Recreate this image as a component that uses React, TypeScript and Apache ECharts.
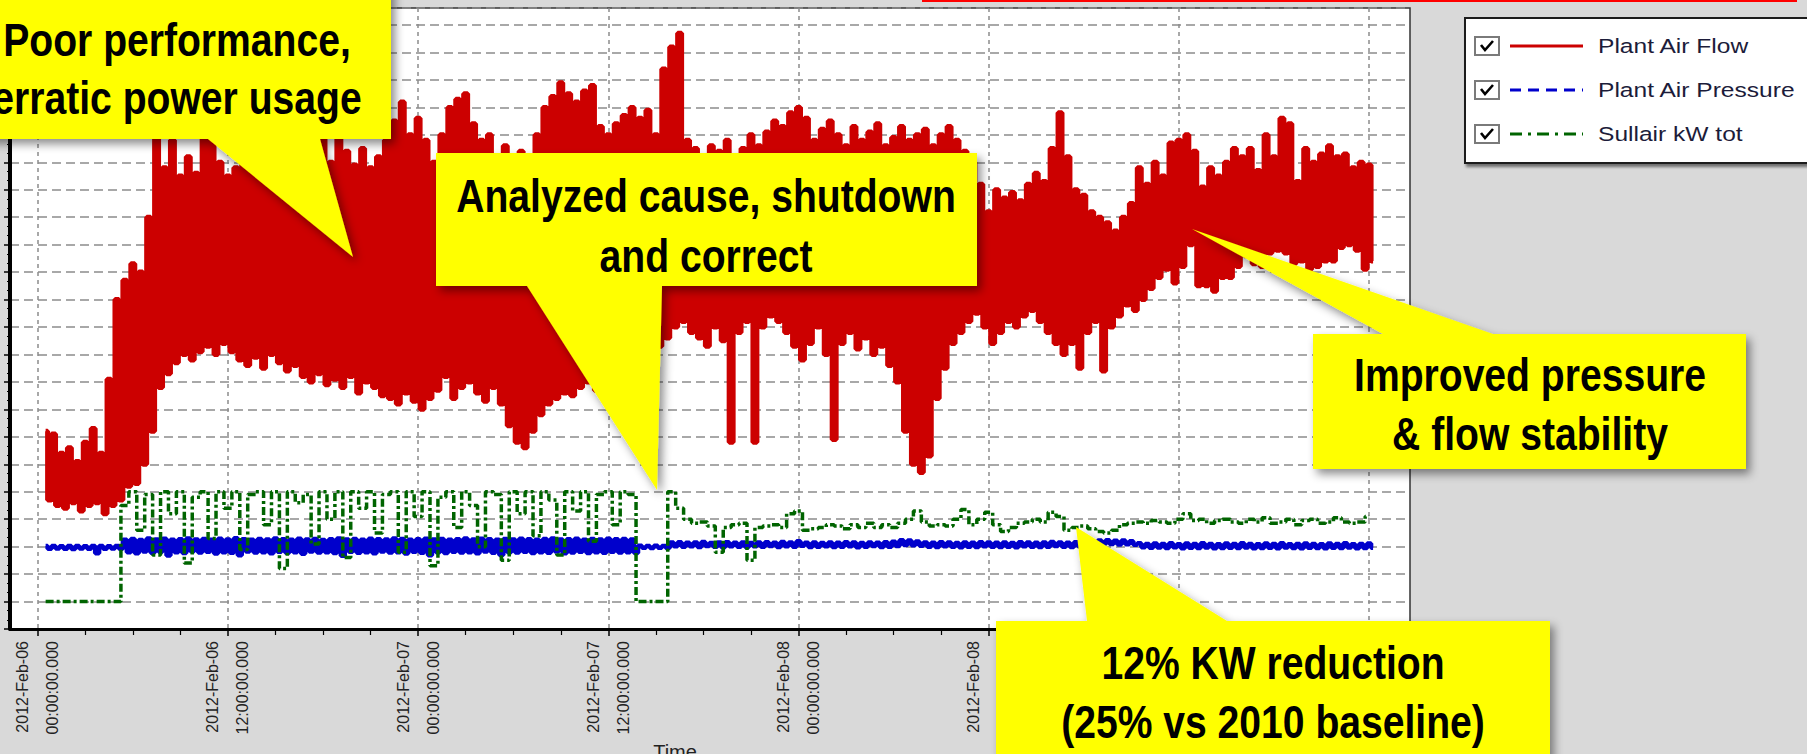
import React, { useEffect, useRef } from "react";
import * as echarts from "echarts";

// ---------- axis definitions ----------
const xMinHours = -1.748;
const xMaxHours = 86.58;
const tickHours = [0, 12, 24, 36, 48, 60, 72, 84];
const minorTickHours = [3, 6, 9, 15, 18, 21, 27, 30, 33, 39, 42, 45, 51, 54, 57, 63, 66, 69, 75, 78, 81];
const tickLabels = [
  "2012-Feb-06\n00:00:00.000",
  "2012-Feb-06\n12:00:00.000",
  "2012-Feb-07\n00:00:00.000",
  "2012-Feb-07\n12:00:00.000",
  "2012-Feb-08\n00:00:00.000",
  "2012-Feb-08\n12:00:00.000",
  "2012-Feb-09\n00:00:00.000",
  "2012-Feb-09\n12:00:00.000",
];
const yMin = 0;
const yMax = 226.2;
const yInterval = 10;

// sampling: one slot every 30 minutes starting 00:30 on Feb-06
const sampleStartHour = 0.5;
const sampleStepHours = 0.5;

// ---------- series values ----------
const seriesNames = ["Plant Air Flow", "Plant Air Pressure", "Sullair kW tot"];
const seriesColors = ["#cc0000", "#0000cc", "#006400"];

// Plant Air Flow: upper and lower envelope of each 30-minute slot
const flowHigh = [
  72, 71, 64, 66, 61, 68, 73, 64, 91, 120,
  127, 133, 130, 150, 185, 168, 178, 165, 172, 166,
  181, 187, 170, 165, 168, 175, 188, 172, 178, 186,
  170, 165, 172, 168, 176, 180, 170, 182, 174, 169,
  175, 168, 172, 178, 185, 192, 180, 186, 178, 170,
  180, 190, 193, 195, 184, 178, 180, 172, 176, 170,
  174, 168, 180, 190, 194, 199, 195, 192, 196, 198,
  183, 180, 184, 187, 190, 186, 189, 180, 204, 212,
  217, 178, 175, 172, 176, 174, 178, 172, 175, 180,
  176, 181, 185, 183, 188, 190, 186, 178, 182, 185,
  180, 176, 183, 178, 181, 184, 176, 179, 183, 178,
  180, 182, 176, 180, 183, 178, 174, 170, 162, 152,
  160, 157, 159, 156, 162, 166, 163, 175, 188, 172,
  160, 158, 152, 150, 148, 145, 150, 155, 168, 162,
  170, 165, 177, 178, 180, 174, 161, 168, 165, 170,
  175, 172, 175, 167, 180, 172, 186, 184, 163, 175,
  170, 173, 176, 172, 173, 168, 170, 169,
];
const flowLow = [
  47, 45, 44, 46, 43, 45, 46, 42, 45, 47,
  52, 53, 60, 72, 88, 93, 97, 100, 98, 101,
  103, 100, 104, 101, 98, 96, 99, 95, 100, 97,
  94, 96, 92, 90, 93, 89, 91, 88, 92, 86,
  90, 88, 85, 84, 82, 86, 83, 80, 84, 87,
  92, 84, 88, 90, 86, 83, 88, 82, 74, 68,
  66, 72, 78, 82, 84, 86, 85, 88, 90, 87,
  90, 88, 92, 96, 100, 104, 108, 103, 106, 110,
  112, 108, 106, 103, 110, 105, 68, 108, 112, 68,
  110, 114, 112, 108, 103, 98, 104, 110, 100, 69,
  104, 108, 102, 106, 100, 103, 96, 90, 72, 60,
  57, 63, 84, 95, 104, 108, 112, 115, 110, 104,
  108, 112, 110, 114, 116, 112, 108, 104, 100, 104,
  95, 108, 112, 94, 110, 114, 118, 116, 120, 124,
  128, 131, 126, 132, 140, 125, 125, 123, 128, 128,
  132, 136, 133, 132, 137, 138, 137, 133, 134, 131,
  132, 134, 134, 139, 140, 138, 131, 134,
];

// Plant Air Pressure: upper and lower edge of each slot
const pressureHigh = [
  30.2, 30.2, 30.1, 30.2, 30.2, 30.1, 30.2, 30.2, 30.1, 30.2,
  32.5, 32.8, 32.4, 33.0, 32.6, 32.9, 32.5, 32.7, 33.0, 32.6,
  32.8, 32.5, 32.9, 32.6, 33.1, 32.7, 32.5, 32.8, 32.6, 33.0,
  32.7, 32.5, 32.9, 32.6, 32.8, 32.4, 32.7, 33.0, 32.6, 32.8,
  32.5, 32.9, 32.7, 32.6, 33.0, 32.8, 32.5, 32.7, 32.9, 32.6,
  32.8, 32.5, 32.7, 33.0, 32.6, 32.9, 32.7, 32.5, 32.8, 32.6,
  32.9, 32.7, 32.5, 32.8, 33.0, 32.6, 32.7, 32.9, 32.5, 32.8,
  32.6, 32.9, 32.7, 32.8, 32.6, 30.3, 30.2, 30.3, 30.2, 31.5,
  31.6, 31.4, 31.5, 31.7, 31.3, 31.5, 31.6, 31.4, 31.5, 31.3,
  31.5, 31.6, 31.4, 31.7, 31.5, 32.0, 31.4, 31.5, 31.3, 31.5,
  31.4, 31.6, 31.5, 31.3, 31.5, 31.4, 31.6, 31.8, 32.3, 32.2,
  31.9, 31.5, 31.4, 31.6, 31.5, 31.3, 31.5, 31.4, 31.6, 31.5,
  31.4, 31.5, 31.3, 31.6, 31.5, 31.4, 31.5, 31.7, 31.5, 31.4,
  31.6, 31.5, 31.8, 32.2, 32.3, 32.1, 32.2, 32.0, 31.2, 31.0,
  31.1, 31.0, 31.2, 30.9, 31.1, 31.0, 31.2, 31.0, 30.9, 31.1,
  31.0, 31.2, 31.0, 30.9, 31.1, 31.0, 31.2, 30.9, 31.0, 31.1,
  31.0, 30.9, 31.1, 31.0, 31.2, 30.9, 31.0, 31.1,
];
const pressureLow = [
  29.2, 29.3, 29.2, 29.1, 29.3, 29.2, 27.6, 29.2, 29.3, 29.2,
  28.0, 27.6, 28.2, 27.8, 28.1, 26.8, 28.0, 27.7, 28.3, 27.9,
  28.1, 27.5, 28.0, 27.8, 26.9, 28.2, 27.9, 28.0, 27.6, 28.1,
  27.8, 28.0, 27.4, 28.2, 27.9, 28.0, 27.7, 26.7, 28.1, 27.8,
  28.0, 27.6, 28.2, 27.9, 28.0, 27.5, 28.1, 27.8, 26.9, 28.0,
  27.7, 28.1, 27.9, 28.0, 27.6, 28.2, 27.8, 27.0, 28.0, 27.9,
  28.1, 27.7, 28.0, 27.8, 28.2, 27.6, 27.9, 28.1, 27.7, 28.0,
  27.8, 28.1, 27.9, 28.0, 27.7, 29.6, 29.5, 29.6, 29.5, 30.1,
  30.0, 30.1, 29.9, 30.2, 30.0, 29.8, 30.1, 30.0, 29.9, 30.1,
  30.0, 30.2, 29.9, 30.1, 30.0, 30.3, 29.9, 30.0, 30.1, 29.9,
  30.0, 30.1, 29.8, 30.0, 30.2, 29.9, 30.0, 30.2, 30.6, 30.5,
  30.3, 30.0, 29.9, 30.1, 30.0, 29.8, 30.0, 29.9, 30.1, 30.0,
  29.9, 30.0, 29.8, 30.1, 30.0, 29.9, 30.0, 30.2, 30.0, 29.9,
  30.1, 30.0, 30.3, 30.9, 31.0, 30.8, 30.9, 30.7, 29.8, 29.6,
  29.7, 29.5, 29.8, 29.4, 29.6, 29.5, 29.7, 29.4, 29.5, 29.6,
  29.5, 29.7, 29.4, 29.5, 29.6, 29.4, 29.7, 29.5, 29.4, 29.6,
  29.5, 29.4, 29.6, 29.5, 29.7, 29.4, 29.5, 29.6,
];

// Sullair kW tot: one value per slot
const kwTotal = [
  10, 10, 10, 10, 10, 10, 10, 10, 10, 10,
  45, 50, 36, 49, 27, 50, 42, 50, 24, 48,
  50, 33, 50, 44, 50, 29, 49, 50, 38, 50,
  22, 50, 46, 49, 31, 50, 40, 50, 26, 50,
  44, 50, 35, 49, 50, 28, 50, 41, 50, 23,
  48, 50, 37, 50, 45, 30, 50, 49, 25, 50,
  42, 50, 34, 50, 47, 27, 50, 43, 50, 32,
  49, 50, 38, 50, 49, 10, 10, 10, 10, 50,
  44, 40, 38.5, 39, 37.5, 28, 37, 38, 38.5, 25,
  37, 37.5, 38, 37, 42, 43, 36, 36.5, 37, 38,
  37.5, 36.5, 38, 37, 38.5, 37, 38, 37, 38.5, 40,
  43, 39, 37.5, 38, 37.5, 40, 43.5, 38, 40, 42.5,
  38, 35.5, 37, 38.5, 39, 40, 39, 42.5, 41, 36,
  37, 37.5, 36.5, 35.5, 35, 36, 38, 38.5, 39, 38.5,
  39.5, 39, 38.5, 40, 42, 39.5, 40, 38.5, 39.5, 40,
  39, 38.5, 40, 39, 40.5, 38.5, 39, 40, 38, 39.5,
  40, 38.5, 39, 40.5, 39, 38.5, 39, 41,
];

// ---------- annotation texts ----------
const calloutLines = [
  ["Poor performance,", "erratic power usage"],
  ["Analyzed cause, shutdown", "and correct"],
  ["Improved pressure", "& flow stability"],
  ["12% KW reduction", "(25% vs 2010 baseline)"],
];

function hasFont(name: string): boolean {
  try {
    const ctx = document.createElement("canvas").getContext("2d");
    if (!ctx) return false;
    const s = "abcdefghijklmnopqrstuvwxyzABCDEFGHIJ0123456789";
    ctx.font = "20px monospace";
    const w1 = ctx.measureText(s).width;
    ctx.font = `20px '${name}', monospace`;
    const w2 = ctx.measureText(s).width;
    return Math.abs(w1 - w2) > 0.5;
  } catch (e) {
    return false;
  }
}

function envelopeData(high: number[], low: number[]) {
  const out: number[][] = [];
  const n = Math.min(high.length, low.length);
  for (let k = 0; k < n; k++) {
    const h = sampleStartHour + sampleStepHours * k;
    out.push([h, high[k]]);
    out.push([h + sampleStepHours / 2, low[k]]);
  }
  return out;
}

function slotData(values: number[]) {
  return values.map((v, k) => [sampleStartHour + sampleStepHours * k, v]);
}

function buildGraphic(narrow: boolean) {
  const els: any[] = [];
  // slide's red rule at the top
  els.push({
    type: "line",
    shape: { x1: 922, y1: 1, x2: 1797, y2: 1 },
    style: { stroke: "#ff0000", lineWidth: 2 },
    z: 100,
  });
  // legend box
  els.push({
    type: "rect",
    shape: { x: 1465, y: 18, width: 400, height: 145 },
    style: {
      fill: "#ffffff",
      stroke: "#1a1a1a",
      lineWidth: 2,
      shadowBlur: 3,
      shadowOffsetX: 2,
      shadowOffsetY: 3,
      shadowColor: "rgba(0,0,0,0.5)",
    },
    z: 100,
  });
  const dashes: (number[] | null)[] = [null, [11, 7], [12, 6, 3, 6]];
  seriesNames.forEach((name, i) => {
    const cy = 46 + 44 * i;
    els.push({
      type: "rect",
      shape: { x: 1475, y: cy - 9, width: 24, height: 18 },
      style: { fill: "#ffffff", stroke: "#7a7a7a", lineWidth: 2 },
      z: 101,
    });
    els.push({
      type: "polyline",
      shape: { points: [[1481, cy - 1], [1485, cy + 4], [1493, cy - 5]] },
      style: { stroke: "#000000", lineWidth: 2.6, fill: null },
      z: 102,
    });
    els.push({
      type: "line",
      shape: { x1: 1510, y1: cy, x2: 1583, y2: cy },
      style: { stroke: seriesColors[i], lineWidth: 3, lineDash: dashes[i] || undefined },
      z: 101,
    });
    els.push({
      type: "text",
      x: 1598,
      y: cy,
      scaleX: 1.26,
      style: {
        text: name,
        fontSize: 19.5,
        fontFamily: "Liberation Sans, Arial, sans-serif",
        fill: "#1c1c3a",
        align: "left",
        verticalAlign: "middle",
        textAlign: "left",
        textVerticalAlign: "middle",
      },
      z: 101,
    });
  });

  // callouts
  const shapes = [
    [[-60, -60], [391, -60], [391, 139], [320, 139], [353, 257], [208, 139], [-60, 139]],
    [[436, 153], [977, 153], [977, 286], [662, 286], [657, 490], [527, 286], [436, 286]],
    [[1313, 334], [1383, 334], [1192, 229], [1493, 334], [1746, 334], [1746, 469], [1313, 469]],
    [[996, 621], [1087, 621], [1076, 527], [1227, 621], [1550, 621], [1550, 820], [996, 820]],
  ];
  const centers = [
    [177, 40, 98],
    [706, 196, 256],
    [1530, 375, 434],
    [1273, 663, 722],
  ];
  shapes.forEach((pts) => {
    els.push({
      type: "polygon",
      shape: { points: pts },
      style: {
        fill: "#ffff00",
        shadowBlur: 10,
        shadowOffsetX: 4,
        shadowOffsetY: 5,
        shadowColor: "rgba(0,0,0,0.45)",
      },
      z: 110,
    });
  });
  const calloutFont = narrow
    ? "'Liberation Sans Narrow', sans-serif"
    : "Liberation Sans, Arial, sans-serif";
  const calloutScale = narrow ? 1.03 : 0.85;
  calloutLines.forEach((lines, i) => {
    lines.forEach((line, j) => {
      els.push({
        type: "text",
        x: centers[i][0],
        y: centers[i][1 + j],
        scaleX: calloutScale,
        style: {
          text: line,
          fontSize: 46,
          fontWeight: "bold",
          fontFamily: calloutFont,
          fill: "#000000",
          align: "center",
          verticalAlign: "middle",
          textAlign: "center",
          textVerticalAlign: "middle",
        },
        z: 111,
      });
    });
  });
  return els;
}

export default function App() {
  const ref = useRef<HTMLDivElement>(null);

  useEffect(() => {
    if (!ref.current) return;
    const narrow = hasFont("Liberation Sans Narrow");
    const chart = echarts.init(ref.current, undefined, { renderer: "svg" });
    const option: any = {
      animation: false,
      backgroundColor: "#d9d9d9",
      grid: {
        left: 10,
        top: 8,
        right: 397,
        bottom: 125,
        show: true,
        backgroundColor: "#ffffff",
        borderColor: "#333333",
        borderWidth: 1.5,
        containLabel: false,
        outerBoundsMode: "none",
      },
      xAxis: [
        {
          type: "value",
          min: xMinHours,
          max: xMaxHours,
          position: "bottom",
          name: "Time",
          nameLocation: "middle",
          nameGap: 113,
          nameTextStyle: {
            fontSize: 20,
            fontFamily: "Liberation Sans, Arial, sans-serif",
            color: "#222222",
            padding: [0, 70, 0, 0],
          },
          axisLine: { show: true, onZero: false, lineStyle: { color: "#000000", width: 3 } },
          axisTick: {
            show: true,
            customValues: tickHours,
            length: 7,
            lineStyle: { color: "#000000", width: 1.5 },
          },
          axisLabel: {
            show: true,
            customValues: tickHours,
            rotate: 90,
            margin: 12,
            fontSize: narrow ? 18 : 16,
            lineHeight: 30,
            fontFamily: narrow
              ? "'Liberation Sans Narrow', sans-serif"
              : "Liberation Sans, Arial, sans-serif",
            color: "#222222",
            formatter: (v: number) => {
              const i = tickHours.indexOf(Math.round(v));
              return i >= 0 ? tickLabels[i] : "";
            },
          },
          splitLine: {
            show: true,
            lineStyle: { color: "#8c8c8c", type: [4, 4], width: 1.5 },
          },
        },
        {
          type: "value",
          min: xMinHours,
          max: xMaxHours,
          position: "bottom",
          axisLine: { show: false, onZero: false },
          axisTick: {
            show: true,
            customValues: minorTickHours,
            length: 6,
            lineStyle: { color: "#000000", width: 1.2 },
          },
          axisLabel: { show: false },
          splitLine: { show: false },
        },
      ],
      yAxis: {
        type: "value",
        min: yMin,
        max: yMax,
        interval: yInterval,
        axisLabel: { show: false },
        axisLine: { show: true, onZero: false, lineStyle: { color: "#000000", width: 4 } },
        axisTick: { show: true, inside: false, length: 6, lineStyle: { color: "#000000", width: 1.5 } },
        minorTick: { show: true, splitNumber: 3, length: 3, lineStyle: { color: "#000000", width: 1 } },
        splitLine: {
          show: true,
          lineStyle: { color: "#8c8c8c", type: [9, 5], width: 1.5 },
        },
      },
      series: [
        {
          name: seriesNames[0],
          type: "line",
          xAxisIndex: 0,
          data: envelopeData(flowHigh, flowLow),
          step: "middle",
          symbol: "none",
          showSymbol: false,
          lineStyle: { color: seriesColors[0], width: 5 },
          itemStyle: { color: seriesColors[0] },
          z: 2,
        },
        {
          name: seriesNames[1],
          type: "line",
          xAxisIndex: 0,
          data: envelopeData(pressureHigh, pressureLow),
          step: "middle",
          symbol: "none",
          showSymbol: false,
          lineStyle: { color: seriesColors[1], width: 4.5 },
          itemStyle: { color: seriesColors[1] },
          z: 3,
        },
        {
          name: seriesNames[2],
          type: "line",
          xAxisIndex: 0,
          data: slotData(kwTotal),
          step: "middle",
          symbol: "none",
          showSymbol: false,
          lineStyle: { color: seriesColors[2], width: 3.5, type: [8, 3, 3, 3] },
          itemStyle: { color: seriesColors[2] },
          z: 4,
        },
      ],
      graphic: { elements: buildGraphic(narrow) },
    };
    chart.setOption(option);
    return () => chart.dispose();
  }, []);

  return (
    <div
      ref={ref}
      style={{ position: "fixed", left: 0, top: 0, width: 1807, height: 754 }}
    />
  );
}
